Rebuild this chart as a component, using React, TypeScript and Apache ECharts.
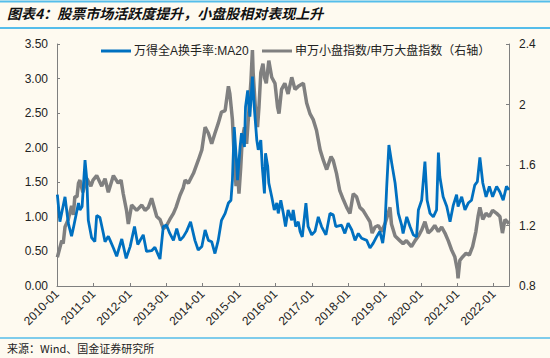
import React, { useEffect, useRef } from "react";
import * as echarts from "echarts";

// 万得全A换手率:MA20 (left axis) — decimal years and values
const turnoverYears = [
  2010.01, 2010.08, 2010.22, 2010.31, 2010.4, 2010.45, 2010.59, 2010.63, 2010.69, 2010.77, 2010.82, 2010.86,
  2010.95, 2011.04, 2011.09, 2011.18, 2011.27, 2011.32, 2011.41, 2011.46, 2011.55, 2011.64, 2011.78, 2011.9,
  2012.01, 2012.13, 2012.22, 2012.37, 2012.46, 2012.6, 2012.69, 2012.83, 2012.92, 2013.01, 2013.1, 2013.2,
  2013.29, 2013.38, 2013.47, 2013.56, 2013.67, 2013.79, 2013.88, 2013.98, 2014.07, 2014.16, 2014.25, 2014.34,
  2014.43, 2014.52,
  2014.62, 2014.71, 2014.78, 2014.82, 2014.87, 2014.94, 2014.96, 2015.03, 2015.07, 2015.15, 2015.18, 2015.24,
  2015.3, 2015.37, 2015.42, 2015.49, 2015.53, 2015.6, 2015.64, 2015.7, 2015.73, 2015.79, 2015.82, 2015.9,
  2015.97, 2016.04, 2016.08, 2016.15, 2016.22, 2016.28, 2016.35, 2016.45, 2016.49, 2016.56, 2016.63, 2016.68,
  2016.74, 2016.84, 2016.9, 2017.0, 2017.09, 2017.18, 2017.27, 2017.39, 2017.5, 2017.59, 2017.66, 2017.82,
  2017.91, 2018.0, 2018.1, 2018.19, 2018.28, 2018.37, 2018.51, 2018.6, 2018.69, 2018.78, 2018.87, 2018.95,
  2019.01, 2019.06, 2019.12, 2019.2, 2019.29, 2019.38, 2019.47, 2019.51, 2019.61, 2019.7, 2019.79, 2019.88,
  2019.93, 2020.02, 2020.11, 2020.17, 2020.25, 2020.34, 2020.43, 2020.48, 2020.52, 2020.61, 2020.71, 2020.8,
  2020.89, 2020.98, 2021.02, 2021.12, 2021.21, 2021.3, 2021.39, 2021.48, 2021.55, 2021.62, 2021.7, 2021.79,
  2021.88, 2021.97, 2022.08, 2022.17, 2022.26, 2022.35, 2022.42,
];
const turnoverValues = [
  1.32, 0.93, 1.29, 0.91, 0.72, 0.84, 1.2, 1.1, 1.15, 1.82, 1.53, 0.95,
  0.7, 0.64, 1.02, 0.99, 0.77, 0.64, 0.72, 0.66, 0.55, 0.43, 0.68, 0.4,
  0.57, 0.86, 0.6, 0.74, 0.5, 0.51, 0.56, 0.39, 0.86, 0.88, 0.76, 0.66,
  0.83, 0.66, 0.71, 0.79, 0.93, 0.66, 0.52, 0.57, 0.81, 0.66, 0.64, 0.47,
  0.66, 0.95,
  1.05, 1.2, 1.24, 1.53, 2.3, 1.73, 1.53, 2.01, 2.21, 2.01, 2.59, 2.83,
  2.45, 3.03, 2.59, 2.11, 1.97, 2.11, 1.73, 1.34, 1.92, 1.73, 1.49, 1.29,
  1.1, 1.2, 1.05, 1.24, 1.05, 0.86, 1.1, 0.95, 1.1, 0.86, 0.93, 0.79,
  0.71, 1.2, 0.86, 0.74, 0.79, 1.0, 0.86, 0.74, 1.05, 1.03, 0.86, 0.88,
  0.76, 0.91, 0.81, 0.66, 0.76, 0.69, 0.66, 0.55, 0.62, 0.71, 0.79, 0.62,
  0.86, 1.44, 2.04, 1.77, 1.49, 1.05, 0.88, 0.76, 1.0, 0.86, 0.74, 0.71,
  1.1, 1.24, 1.8, 1.24, 1.05, 1.0, 1.1, 1.93, 1.58, 1.29, 1.15, 0.93,
  1.17, 1.32, 1.15, 1.29, 1.1, 1.2, 1.24, 1.46, 1.51, 1.86, 1.49, 1.29,
  1.44, 1.29, 1.44, 1.36, 1.24, 1.44, 1.39,
];

// 申万小盘指数/申万大盘指数 (right axis) — decimal years and values
const ratioYears = [
  2010.01, 2010.13, 2010.17, 2010.22, 2010.31, 2010.4, 2010.45, 2010.49, 2010.55, 2010.59, 2010.63, 2010.71,
  2010.82, 2010.93, 2010.99, 2011.09, 2011.23, 2011.32, 2011.41, 2011.55, 2011.68, 2011.76, 2011.82, 2011.91,
  2011.96, 2012.05, 2012.19, 2012.33, 2012.42, 2012.51, 2012.6, 2012.74, 2012.83, 2012.92, 2012.99, 2013.1,
  2013.2, 2013.27, 2013.38, 2013.47, 2013.52, 2013.61, 2013.75, 2013.88, 2013.98, 2014.07, 2014.16, 2014.25,
  2014.34, 2014.43, 2014.52,
  2014.62, 2014.71, 2014.75, 2014.82, 2014.87, 2014.92, 2014.96, 2015.0, 2015.05, 2015.09, 2015.15, 2015.21,
  2015.28, 2015.33, 2015.37, 2015.39, 2015.45, 2015.51, 2015.55, 2015.6, 2015.66, 2015.7, 2015.75, 2015.82,
  2015.9, 2015.99, 2016.06, 2016.1, 2016.17, 2016.26, 2016.35, 2016.45, 2016.54, 2016.63,
  2016.77, 2016.86, 2016.95, 2017.04, 2017.13, 2017.23, 2017.32, 2017.41, 2017.53, 2017.59, 2017.68, 2017.77,
  2017.87, 2017.96, 2018.05, 2018.14, 2018.23, 2018.32, 2018.41, 2018.51, 2018.6, 2018.66, 2018.74, 2018.83,
  2018.92, 2019.01, 2019.1, 2019.15, 2019.19, 2019.29, 2019.42, 2019.51, 2019.6, 2019.74, 2019.84, 2019.93,
  2020.02, 2020.11, 2020.2, 2020.29, 2020.38, 2020.48, 2020.57, 2020.66, 2020.75, 2020.84, 2020.93, 2021.0,
  2021.02, 2021.07, 2021.15, 2021.24, 2021.33, 2021.42, 2021.51, 2021.57, 2021.62, 2021.7, 2021.79, 2021.88,
  2021.97, 2022.08, 2022.17, 2022.24, 2022.31, 2022.37, 2022.42,
];
const ratioValues = [
  0.99, 1.1, 1.08, 1.19, 1.24, 1.33, 1.27, 1.39, 1.39, 1.48, 1.5, 1.42,
  1.51, 1.46, 1.5, 1.53, 1.46, 1.51, 1.42, 1.53, 1.48, 1.5, 1.41, 1.3,
  1.21, 1.335, 1.3, 1.335, 1.3, 1.32, 1.38, 1.26, 1.24, 1.18, 1.19, 1.24,
  1.28, 1.32, 1.4, 1.45, 1.5, 1.48, 1.545, 1.63, 1.7, 1.85, 1.81, 1.74,
  1.81, 1.875, 1.95,
  1.96, 2.12, 2.07, 1.9, 1.65, 1.46, 1.57, 1.41, 1.59, 1.77, 1.85, 1.74,
  1.985, 2.16, 2.36, 2.21, 1.985, 1.85, 1.985, 2.21, 2.27, 2.18, 2.14, 2.29,
  2.18, 2.14, 1.985, 1.94, 2.1, 2.14, 2.07, 2.18, 2.1, 2.12,
  2.14, 2.01, 1.94, 1.9, 1.83, 1.7, 1.63, 1.57, 1.655, 1.63, 1.545, 1.43,
  1.37, 1.32, 1.28, 1.41, 1.39, 1.32, 1.3, 1.26, 1.225, 1.15, 1.19, 1.2,
  1.16, 1.21, 1.28, 1.32, 1.21, 1.13, 1.1, 1.08, 1.1, 1.06, 1.1, 1.13,
  1.17, 1.225, 1.15, 1.17, 1.2, 1.16, 1.19, 1.15, 1.1, 1.04, 0.994, 0.906,
  0.85, 0.97, 0.994, 1.016, 1.005, 1.06, 1.16, 1.26, 1.32, 1.24, 1.28, 1.26,
  1.3, 1.28, 1.26, 1.15, 1.24, 1.225, 1.21,
];

const xYearStart = 2010;
const xYearEnd = 2022.42;
const leftTicks = { min: 0, max: 3.5, interval: 0.5 };
const rightTicks = { min: 0.8, max: 2.4, interval: 0.4 };

const titleText = "图表4：股票市场活跃度提升，小盘股相对表现上升";
const sourceText = "来源：Wind、国金证券研究所";
const seriesNames = ["万得全A换手率:MA20", "申万小盘指数/申万大盘指数（右轴）"];

const FONT = "'Liberation Sans', Arial, 'Noto Sans CJK SC', sans-serif";

export default function App() {
  const ref = useRef<HTMLDivElement>(null);

  useEffect(() => {
    document.body.style.margin = "0";
    if (!ref.current) return;
    const chart = echarts.init(ref.current, undefined, { renderer: "svg" });

    const blueData = turnoverYears.map((y, i) => [y, turnoverValues[i]]);
    const grayData = ratioYears.map((y, i) => [y, ratioValues[i]]);

    const axisLineStyle = { color: "#7f7f7f", width: 1 };
    const labelStyle = { color: "#222", fontSize: 12, fontFamily: FONT };

    chart.setOption({
      animation: false,
      backgroundColor: "#FEFAF0",
      textStyle: { fontFamily: FONT },
      grid: { left: 57, right: 41, top: 44, bottom: 72, containLabel: false },
      legend: [
        {
          data: [seriesNames[0]],
          left: 96,
          top: 40,
          itemWidth: 30,
          itemHeight: 3,
          icon: "rect",
          textStyle: { color: "#222", fontSize: 12, fontFamily: FONT, padding: [0, 0, 0, -2] },
        },
        {
          data: [seriesNames[1]],
          left: 257,
          top: 40,
          itemWidth: 30,
          itemHeight: 3,
          icon: "rect",
          textStyle: { color: "#222", fontSize: 12, fontFamily: FONT, padding: [0, 0, 0, -2] },
        },
      ],
      xAxis: {
        type: "value",
        min: xYearStart,
        max: xYearEnd,
        interval: 1,
        axisLine: { lineStyle: axisLineStyle },
        axisTick: { inside: true, length: 3, lineStyle: axisLineStyle },
        splitLine: { show: false },
        axisLabel: {
          rotate: 45,
          margin: 6,
          ...labelStyle,
          formatter: (v: number) =>
            Math.abs(v - Math.round(v)) < 1e-6 ? `${Math.round(v)}-01` : "",
        },
      },
      yAxis: [
        {
          type: "value",
          min: leftTicks.min,
          max: leftTicks.max,
          interval: leftTicks.interval,
          axisLine: { show: true, lineStyle: axisLineStyle },
          axisTick: { show: true, inside: true, length: 3, lineStyle: axisLineStyle },
          splitLine: { show: false },
          axisLabel: { ...labelStyle, margin: 9, formatter: (v: number) => v.toFixed(2) },
        },
        {
          type: "value",
          min: rightTicks.min,
          max: rightTicks.max,
          interval: rightTicks.interval,
          position: "right",
          axisLine: { show: true, lineStyle: axisLineStyle },
          axisTick: { show: true, inside: true, length: 3, lineStyle: axisLineStyle },
          splitLine: { show: false },
          axisLabel: {
            ...labelStyle,
            margin: 10,
            formatter: (v: number) => String(Math.round(v * 10) / 10),
          },
        },
      ],
      series: [
        {
          name: seriesNames[1],
          type: "line",
          yAxisIndex: 1,
          data: grayData,
          showSymbol: false,
          symbol: "none",
          lineStyle: { color: "#808080", width: 3.5 },
          itemStyle: { color: "#808080" },
          z: 2,
        },
        {
          name: seriesNames[0],
          type: "line",
          yAxisIndex: 0,
          data: blueData,
          showSymbol: false,
          symbol: "none",
          lineStyle: { color: "#0070C0", width: 2.8 },
          itemStyle: { color: "#0070C0" },
          z: 3,
        },
      ],
      graphic: [
        {
          type: "line",
          shape: { x1: 0, y1: 1.5, x2: 550, y2: 1.5 },
          style: { stroke: "#55BDEA", lineWidth: 2 },
        },
        {
          type: "line",
          shape: { x1: 0, y1: 28, x2: 550, y2: 28 },
          style: { stroke: "#55BDEA", lineWidth: 2 },
        },
        {
          type: "text",
          left: 7,
          top: 6,
          style: {
            text: titleText,
            fill: "#111",
            font: "italic bold 14px 'Noto Sans CJK SC', sans-serif",
          },
        },
        {
          type: "line",
          shape: { x1: 0, y1: 338, x2: 550, y2: 338 },
          style: { stroke: "#55BDEA", lineWidth: 1.5 },
        },
        {
          type: "text",
          left: 7,
          top: 342,
          style: {
            text: sourceText,
            fill: "#222",
            font: "11px 'Noto Sans CJK SC', sans-serif",
          },
        },
      ],
    });

    return () => chart.dispose();
  }, []);

  return (
    <div
      ref={ref}
      style={{ width: 550, height: 358, position: "absolute", left: 0, top: 0 }}
    />
  );
}
